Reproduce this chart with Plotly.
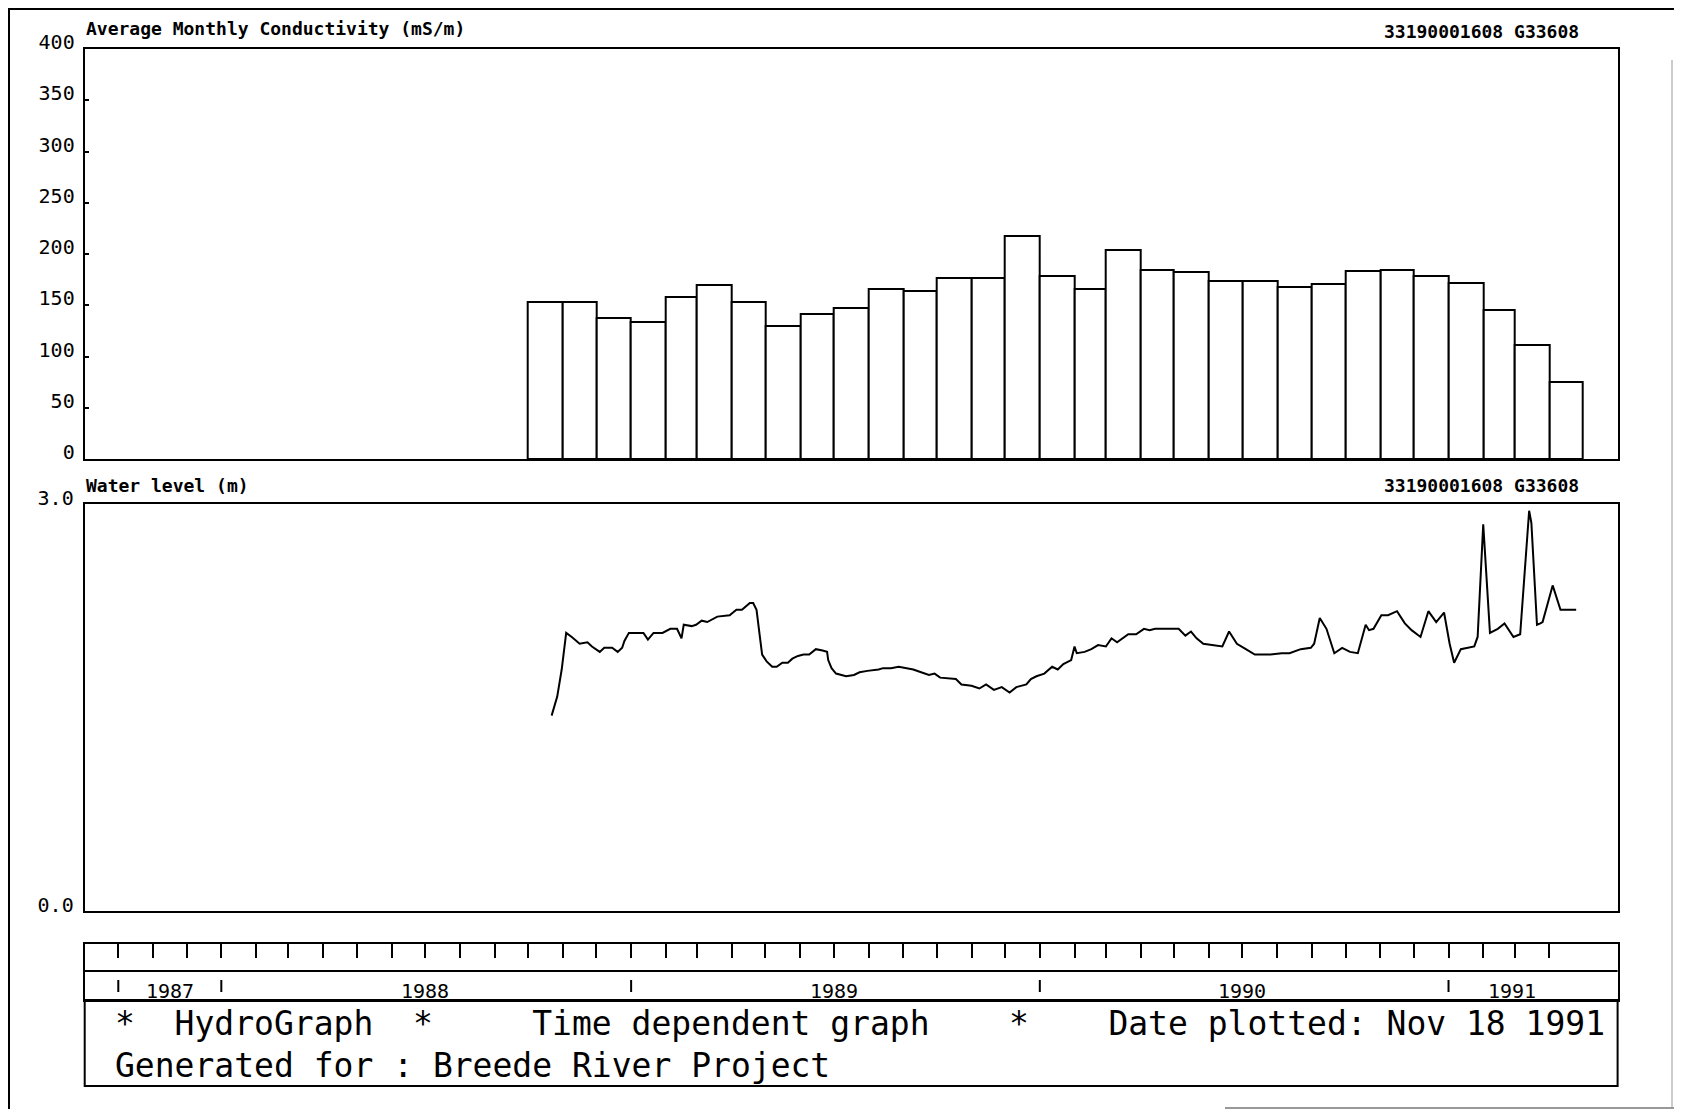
import pandas as pd
import plotly.graph_objects as go

# the page body has an 8px margin, so the figure is made 16px smaller
# and every position below is given in window pixels
PAGE_W, PAGE_H = 1682, 1117
W, H = PAGE_W - 16, PAGE_H - 16
FONT = "DejaVu Sans Mono"

# average monthly conductivity (mS/m), one bar per month Oct 1988 - Apr 1991
cond_months = pd.date_range("1988-10-01", "1991-04-01", freq="MS")
cond_values = [153, 153, 138, 134, 158, 170, 153, 130, 141, 147, 166, 164,
               177, 177, 218, 179, 166, 204, 184, 182, 174, 174, 168, 171,
               183, 184, 179, 172, 145, 111, 75]

# water level (m)
level_dates = [
    "1988-10-22", "1988-10-27", "1988-10-31", "1988-11-04", "1988-11-09", "1988-11-16",
    "1988-11-23", "1988-11-27", "1988-12-04", "1988-12-08", "1988-12-15", "1988-12-20",
    "1988-12-24", "1988-12-26", "1988-12-30", "1989-01-12", "1989-01-16", "1989-01-21",
    "1989-01-29", "1989-02-05", "1989-02-11", "1989-02-15", "1989-02-17", "1989-02-24",
    "1989-02-28", "1989-03-05", "1989-03-10", "1989-03-19", "1989-03-30", "1989-04-05",
    "1989-04-10", "1989-04-17", "1989-04-20", "1989-04-23", "1989-04-26", "1989-04-28",
    "1989-05-02", "1989-05-07", "1989-05-11", "1989-05-16", "1989-05-21", "1989-05-25",
    "1989-05-30", "1989-06-04", "1989-06-09", "1989-06-15", "1989-06-21", "1989-06-25",
    "1989-06-26", "1989-06-29", "1989-07-03", "1989-07-12", "1989-07-19", "1989-07-24",
    "1989-07-31", "1989-08-10", "1989-08-14", "1989-08-21", "1989-08-28", "1989-09-10",
    "1989-09-17", "1989-09-24", "1989-09-29", "1989-10-04", "1989-10-18", "1989-10-23",
    "1989-11-01", "1989-11-08", "1989-11-14", "1989-11-21", "1989-11-28", "1989-12-05",
    "1989-12-11", "1989-12-20", "1989-12-24", "1989-12-29", "1990-01-05", "1990-01-12",
    "1990-01-17", "1990-01-22", "1990-01-29", "1990-02-01", "1990-02-03", "1990-02-10",
    "1990-02-16", "1990-02-22", "1990-03-01", "1990-03-06", "1990-03-11", "1990-03-16",
    "1990-03-21", "1990-03-28", "1990-04-04", "1990-04-09", "1990-04-14", "1990-05-05",
    "1990-05-11", "1990-05-16", "1990-05-21", "1990-05-27", "1990-06-03", "1990-06-13",
    "1990-06-19", "1990-06-26", "1990-07-04", "1990-07-12", "1990-07-26", "1990-08-05",
    "1990-08-12", "1990-08-22", "1990-08-31", "1990-09-03", "1990-09-08", "1990-09-14",
    "1990-09-21", "1990-09-28", "1990-10-05", "1990-10-12", "1990-10-19", "1990-10-22",
    "1990-10-26", "1990-11-02", "1990-11-08", "1990-11-16", "1990-11-23", "1990-11-29",
    "1990-12-07", "1990-12-14", "1990-12-21", "1990-12-28", "1991-01-02", "1991-01-06",
    "1991-01-12", "1991-01-17", "1991-01-24", "1991-01-27", "1991-02-01", "1991-02-07",
    "1991-02-14", "1991-02-20", "1991-02-28", "1991-03-06", "1991-03-14", "1991-03-16",
    "1991-03-21", "1991-03-24", "1991-03-26", "1991-04-04", "1991-04-11", "1991-04-25",
]
level_values = [
    1.44, 1.58, 1.78, 2.05, 2.02, 1.97,
    1.98, 1.95, 1.91, 1.94, 1.94, 1.91,
    1.94, 1.99, 2.05, 2.05, 2.00, 2.05,
    2.05, 2.08, 2.08, 2.01, 2.11, 2.10,
    2.11, 2.14, 2.13, 2.17, 2.18, 2.22,
    2.22, 2.27, 2.27, 2.22, 2.02, 1.89,
    1.84, 1.80, 1.80, 1.83, 1.83, 1.86,
    1.88, 1.89, 1.89, 1.93, 1.92, 1.91,
    1.85, 1.79, 1.75, 1.73, 1.74, 1.76,
    1.77, 1.78, 1.79, 1.79, 1.80, 1.78,
    1.76, 1.74, 1.75, 1.72, 1.71, 1.67,
    1.66, 1.64, 1.67, 1.63, 1.65, 1.61,
    1.65, 1.67, 1.71, 1.73, 1.75, 1.80,
    1.78, 1.82, 1.85, 1.95, 1.90, 1.91,
    1.93, 1.96, 1.95, 2.01, 1.98, 2.01,
    2.04, 2.04, 2.08, 2.07, 2.08, 2.08,
    2.03, 2.06, 2.01, 1.97, 1.96, 1.95,
    2.06, 1.97, 1.93, 1.89, 1.89, 1.90,
    1.90, 1.93, 1.94, 1.97, 2.16, 2.08,
    1.90, 1.94, 1.91, 1.90, 2.11, 2.07,
    2.08, 2.18, 2.18, 2.21, 2.12, 2.07,
    2.02, 2.21, 2.13, 2.20, 1.97, 1.83,
    1.93, 1.94, 1.95, 2.02, 2.85, 2.05,
    2.08, 2.12, 2.02, 2.04, 2.95, 2.86,
    2.11, 2.12, 2.13, 2.40, 2.22, 2.22,
]

# time scale strip
month_ticks = pd.date_range("1987-10-01", "1991-04-01", freq="MS")
year_marks = ["1987-10-01", "1988-01-01", "1989-01-01", "1990-01-01", "1991-01-01"]
year_labels = ["1987", "1988", "1989", "1990", "1991"]
year_label_pos = ["1987-11-16", "1988-07-01", "1989-07-01", "1990-07-01", "1991-02-27"]
station = "33190001608 G33608"
x_range = ["1987-09-01", "1991-06-01"]


def px(x):
    return (x - 8) / W


def py(y):
    return 1 - (y - 8) / H


fig = go.Figure()

fig.add_trace(go.Bar(
    x=cond_months, y=cond_values,
    width=[d * 86400000 for d in cond_months.days_in_month], offset=0,
    marker=dict(color="white", line=dict(color="black", width=2)),
    xaxis="x", yaxis="y",
))

fig.add_trace(go.Scatter(
    x=level_dates, y=level_values, mode="lines",
    line=dict(color="black", width=2),
    xaxis="x2", yaxis="y2",
))

# box positions in window pixels
LEFT, RIGHT = 84.7, 1617.6
TOP1, BOT1 = 49, 459
TOP2, BOT2 = 504, 911
TOP3, MID3, BOT3 = 944, 971, 1000
FOOT_BOT = 1086

xdom = [px(LEFT), px(RIGHT)]
frame = dict(showline=True, linecolor="black", linewidth=2, mirror=True,
             showgrid=False, zeroline=False, automargin=False)

fig.update_layout(
    template="none",
    width=W, height=H,
    margin=dict(l=0, r=0, t=0, b=0, autoexpand=False),
    paper_bgcolor="white", plot_bgcolor="white",
    showlegend=False, bargap=0,
    font=dict(family=FONT, color="black"),
    xaxis=dict(frame, domain=xdom, type="date", range=x_range,
               showticklabels=False, ticks="", anchor="y"),
    yaxis=dict(frame, domain=[py(BOT1), py(TOP1)], range=[0, 400],
               tickvals=[0, 50, 100, 150, 200, 250, 300, 350, 400],
               ticks="inside", ticklen=4, tickwidth=2, tickcolor="black",
               ticklabelshift=-7, ticklabelstandoff=4,
               tickfont=dict(size=20), anchor="x"),
    xaxis2=dict(frame, domain=xdom, type="date", range=x_range,
                showticklabels=False, ticks="", anchor="y2"),
    yaxis2=dict(frame, domain=[py(BOT2), py(TOP2)], range=[0, 3],
                tickvals=[0, 3], tickformat=".1f", ticks="",
                ticklabelshift=-6, ticklabelstandoff=5,
                tickfont=dict(size=20), anchor="x2"),
    xaxis3=dict(frame, domain=xdom, type="date", range=x_range,
                side="top", tickvals=month_ticks, ticks="inside",
                ticklen=14, tickwidth=2, tickcolor="black",
                showticklabels=False, anchor="y3"),
    yaxis3=dict(frame, domain=[py(BOT3), py(TOP3)], range=[0, 1],
                showticklabels=False, ticks="", anchor="x3"),
)

shapes = [
    # divider between month ticks and year row
    dict(type="line", xref="paper", yref="paper", x0=xdom[0], x1=xdom[1],
         y0=py(MID3), y1=py(MID3), line=dict(color="black", width=2)),
    # footer box
    dict(type="rect", xref="paper", yref="paper", x0=xdom[0], x1=xdom[1],
         y0=py(FOOT_BOT), y1=py(BOT3), line=dict(color="black", width=2)),
    # scanned page edges
    dict(type="line", xref="paper", yref="paper", x0=0, x1=1,
         y0=py(9), y1=py(9), line=dict(color="black", width=2)),
    dict(type="line", xref="paper", yref="paper", x0=px(9), x1=px(9),
         y0=0, y1=py(9), line=dict(color="black", width=2)),
    dict(type="line", xref="paper", yref="paper", x0=px(1225), x1=1,
         y0=py(1108), y1=py(1108), line=dict(color="#777777", width=1.5)),
    dict(type="line", xref="paper", yref="paper", x0=px(1672), x1=px(1672),
         y0=py(1108), y1=py(60), line=dict(color="#999999", width=1)),
]
for d in year_marks:
    shapes.append(dict(type="line", xref="x3", yref="paper", x0=d, x1=d,
                       y0=py(992), y1=py(980), line=dict(color="black", width=2)))
fig.update_layout(shapes=shapes)

small = dict(family=FONT, size=18, color="black")
big = dict(family=FONT, size=33, color="black")
ann = [
    dict(text="<b>Average Monthly Conductivity (mS/m)</b>", x=px(LEFT), y=py(28),
         xanchor="left", font=small),
    dict(text="<b>" + station + "</b>", x=px(1580), y=py(32),
         xanchor="right", font=small),
    dict(text="<b>Water level (m)</b>", x=px(LEFT), y=py(485),
         xanchor="left", font=small),
    dict(text="<b>" + station + "</b>", x=px(1580), y=py(485),
         xanchor="right", font=small),
    dict(text="*  HydroGraph  *     Time dependent graph    *    Date plotted: Nov 18 1991",
         x=px(114), y=py(1023), xanchor="left", font=big),
    dict(text="Generated for : Breede River Project",
         x=px(114), y=py(1065), xanchor="left", font=big),
]
for a in ann:
    a.update(xref="paper", yref="paper", yanchor="middle", showarrow=False,
             borderpad=0)

for lab, pos in zip(year_labels, year_label_pos):
    ann.append(dict(text=lab, x=pos, xref="x3", y=py(991), yref="paper",
                    xanchor="center", yanchor="middle", showarrow=False,
                    font=dict(family=FONT, size=20, color="black")))
fig.update_layout(annotations=ann)

fig.write_html("out.html")
